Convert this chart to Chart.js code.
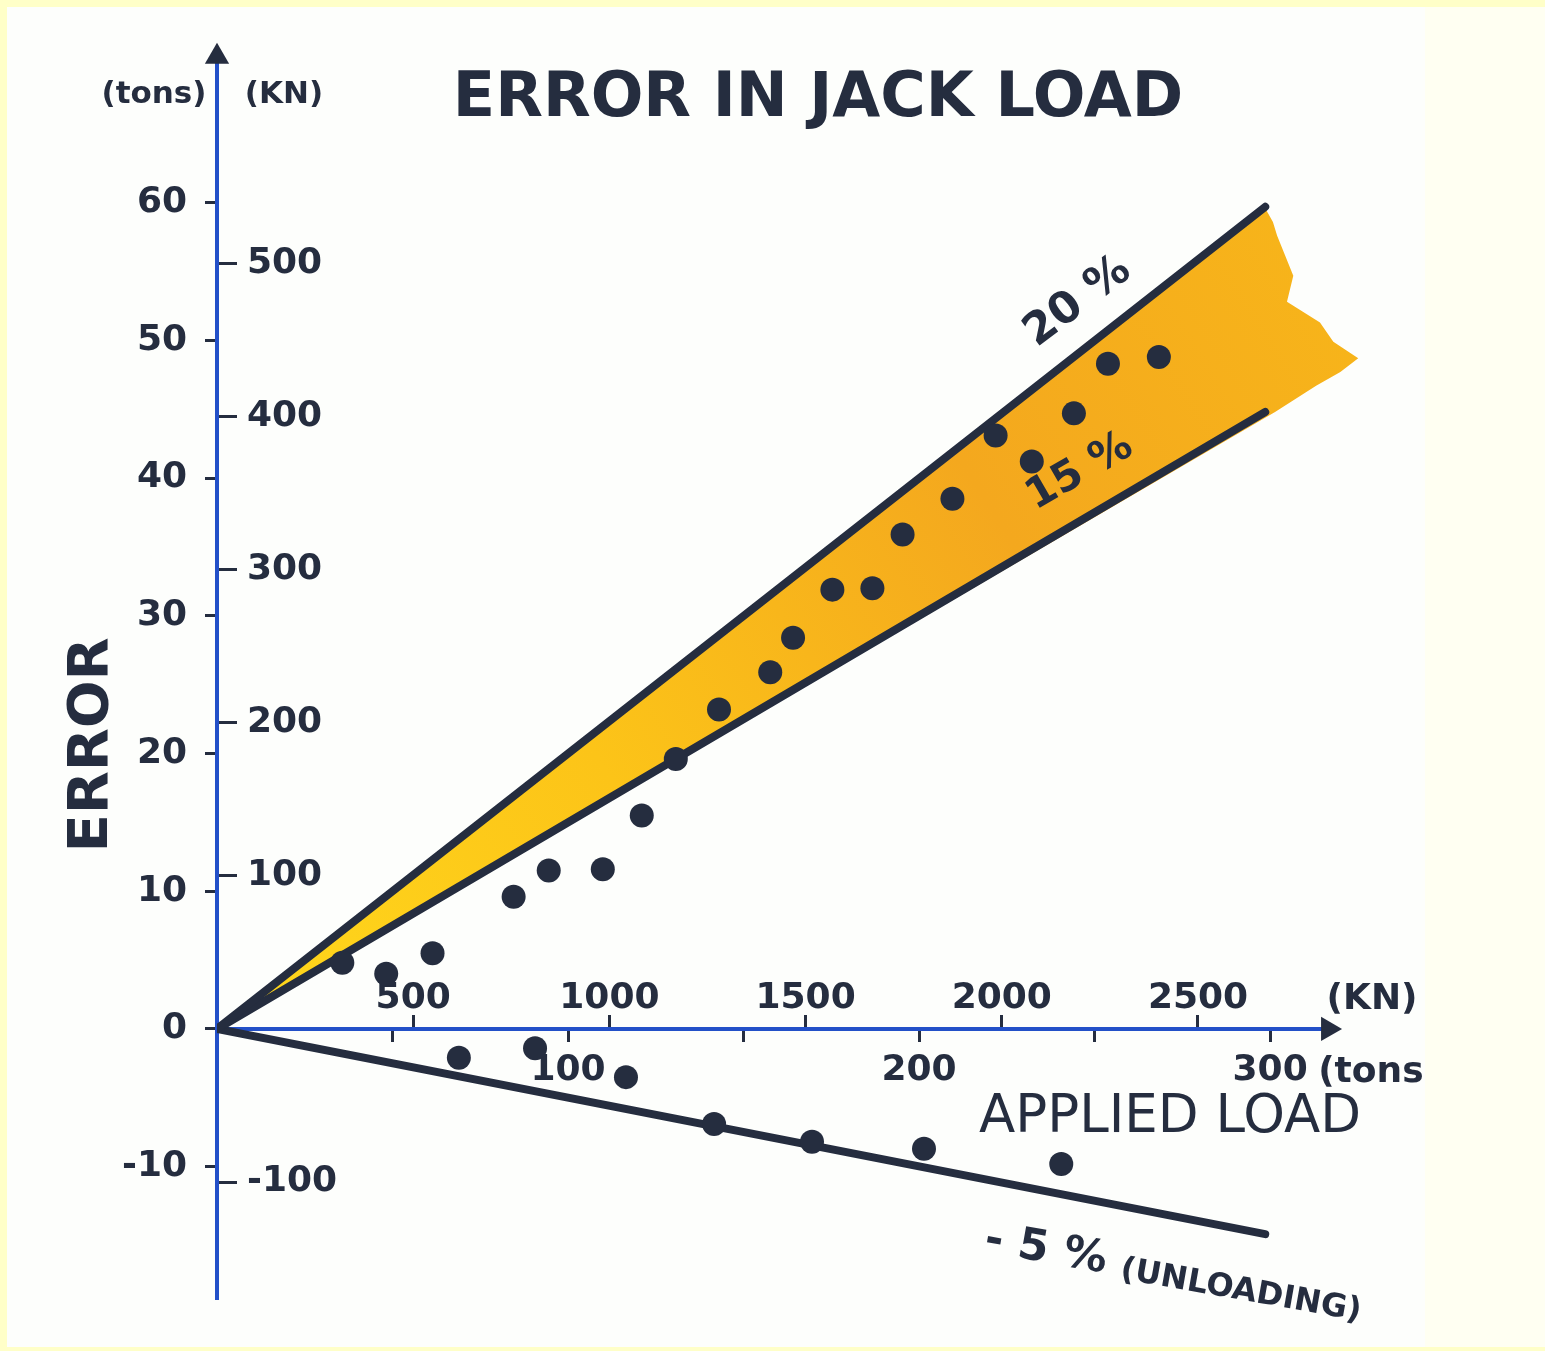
<!DOCTYPE html>
<html>
<head>
<meta charset="utf-8">
<title>Error in jack load</title>
<script src="https://cdn.jsdelivr.net/npm/chart.js@4.4.1/dist/chart.umd.min.js"></script>
<style>
  html, body { margin: 0; padding: 0; background: #ffffc8; }
  #wrap { width: 1545px; height: 1351px; }
</style>
</head>
<body>
<div id="wrap"><canvas id="jackChart" width="1545" height="1351"></canvas></div>
<script>
// applied load (tons) vs error (tons)
const loadingX = [35.7, 48.2, 61.4, 84.5, 94.5, 109.9, 121.0, 130.7, 143.0, 157.6, 164.1, 175.3, 186.7, 195.3, 209.5, 221.8, 232.1, 244.1, 253.8, 268.3];
const loadingY = [4.8, 4.0, 5.5, 9.6, 11.5, 11.6, 15.5, 19.6, 23.2, 25.9, 28.4, 31.9, 32.0, 35.9, 38.5, 43.1, 41.2, 44.7, 48.3, 48.8];
const unloadingX = [68.9, 90.6, 116.5, 141.6, 169.5, 201.4, 240.5];
const unloadingY = [-2.1, -1.4, -3.5, -6.9, -8.2, -8.7, -9.8];

// error envelopes: 20 %, 15 % and -5 % of the applied load
const envelopeX = [0, 298.6];
const upper20Y = [0, 59.7];
const lower15Y = [0, 44.8];
const unload5Y = [0, -14.9];

// hand-coloured band between 15 % and 20 % (ragged right edge)
const bandX = [0, 298.6, 300.8, 302.0, 306.6, 304.8, 314.2, 318.0, 325.1, 320.0, 313.1, 301.4, 0];
const bandY = [0, 59.6, 58.6, 57.6, 54.7, 52.8, 51.3, 49.9, 48.7, 47.7, 46.7, 44.8, 0];

// axis ticks
const errTonTicks = [-10, 0, 10, 20, 30, 40, 50, 60];
const errKnTicks = [-100, 100, 200, 300, 400, 500];
const loadTonTicks = [50, 100, 150, 200, 250, 300];
const loadTonLabels = ['', '100', '', '200', '', '300'];
const loadKnTicks = [500, 1000, 1500, 2000, 2500];

// axis arrows (tip of each axis)
const axisLineX = [0, 316.5];
const axisLineY = [0, 0];
const yArrow = [{ x: 0, y: 70.6 }];
const xArrow = [{ x: 316.5, y: 0 }];

const INK = '#252d3f';
const BLUE = '#2350c8';
const tickFont = { family: 'DejaVu Sans', size: 36, weight: 'bold' };

const pts = (xs, ys) => xs.map((x, i) => ({ x, y: ys[i] }));

// fondo + textos a mano alzada
const inkText = {
    id: 'inkText',
    beforeDraw(chart) {
        const c = chart.ctx;
        c.save();
        c.fillStyle = '#ffffc8';
        c.fillRect(0, 0, 1545, 1351);
        c.fillStyle = '#fffff2';
        c.fillRect(1425, 7, 120, 1340);
        c.fillStyle = '#fdfefc';
        c.fillRect(7, 7, 1418, 1340);
        c.restore();
    },
    afterDraw(chart) {
        const c = chart.ctx;
        const put = (txt, x, y, font, deg, align) => {
            c.save();
            c.translate(x, y);
            if (deg) c.rotate(deg * Math.PI / 180);
            c.font = font;
            c.textAlign = align || 'center';
            c.textBaseline = 'middle';
            c.fillStyle = INK;
            c.fillText(txt, 0, 0);
            c.restore();
        };
        const sx = chart.scales.x;
        put('ERROR IN JACK LOAD', 818, 100, 'bold 62px "DejaVu Sans"');
        put('(tons)', 154, 95, 'bold 31px "DejaVu Sans"');
        put('(KN)', 284, 95, 'bold 31px "DejaVu Sans"');
        put('ERROR', 92, 745, 'bold 56px "DejaVu Sans"', -90);
        put('APPLIED LOAD', 1170, 1118, '53px "DejaVu Sans"');
        put('(tons', sx.getPixelForValue(300) + 48, 1073, 'bold 36px "DejaVu Sans"', 0, 'left');
        put('(KN)', 1372, 1000, 'bold 36px "DejaVu Sans"');
        put('20 %', 1078, 302, 'bold 44px "DejaVu Sans"', -37);
        put('15 %', 1080, 472, 'bold 42px "DejaVu Sans"', -30);
        c.save();
        c.translate(985, 1240);
        c.rotate(10 * Math.PI / 180);
        c.fillStyle = INK;
        c.textBaseline = 'middle';
        c.font = 'bold 44px "DejaVu Sans"';
        c.fillText('- 5 %', 0, 0);
        const w = c.measureText('- 5 % ').width;
        c.font = 'bold 32px "DejaVu Sans"';
        c.fillText('(UNLOADING)', w, 6);
        c.restore();
    }
};

const bandColor = (context) => {
    const chart = context.chart;
    if (!chart.chartArea) return '#f8b81a';
    const x0 = chart.scales.x.getPixelForValue(0);
    const y0 = chart.scales.y.getPixelForValue(0);
    const x1 = chart.scales.x.getPixelForValue(320);
    const y1 = chart.scales.y.getPixelForValue(52);
    const g = chart.ctx.createLinearGradient(x0, y0, x1, y1);
    g.addColorStop(0, '#ffd81c');
    g.addColorStop(0.35, '#fcc418');
    g.addColorStop(0.7, '#f4a81e');
    g.addColorStop(1, '#f7b41a');
    return g;
};

const lineStyle = { type: 'line', borderColor: INK, borderWidth: 8, pointRadius: 0, borderCapStyle: 'round', fill: false, tension: 0, xAxisID: 'x', yAxisID: 'y' };

document.addEventListener('DOMContentLoaded', () => {
    const ctx = document.getElementById('jackChart');
    new Chart(ctx, {
        type: 'scatter',
        data: {
            datasets: [
                { label: 'Loading', data: pts(loadingX, loadingY), pointRadius: 12, pointHoverRadius: 12, backgroundColor: INK, borderWidth: 0, xAxisID: 'x', yAxisID: 'y' },
                { label: 'Unloading', data: pts(unloadingX, unloadingY), pointRadius: 12, pointHoverRadius: 12, backgroundColor: INK, borderWidth: 0, xAxisID: 'x', yAxisID: 'y' },
                { label: 'y arrow', data: yArrow, pointStyle: 'triangle', pointRadius: 14, rotation: 0, backgroundColor: INK, borderWidth: 0, clip: false, xAxisID: 'x', yAxisID: 'y' },
                { label: 'x arrow', data: xArrow, pointStyle: 'triangle', pointRadius: 14, rotation: 90, backgroundColor: INK, borderWidth: 0, clip: false, xAxisID: 'x', yAxisID: 'y' },
                Object.assign({ label: '20 %', data: pts(envelopeX, upper20Y) }, lineStyle),
                Object.assign({ label: '15 %', data: pts(envelopeX, lower15Y) }, lineStyle),
                Object.assign({ label: '-5 %', data: pts(envelopeX, unload5Y) }, lineStyle),
                { type: 'line', label: 'x axis', data: pts(axisLineX, axisLineY), borderColor: BLUE, borderWidth: 4, pointRadius: 0, fill: false, xAxisID: 'x', yAxisID: 'y' },
                { type: 'line', label: 'band', data: pts(bandX, bandY), borderWidth: 0, borderColor: 'rgba(0,0,0,0)', pointRadius: 0, tension: 0, fill: 'shape', backgroundColor: bandColor, xAxisID: 'x', yAxisID: 'y' }
            ]
        },
        options: {
            responsive: false,
            animation: false,
            layout: { padding: { left: 0, top: 45, right: 185, bottom: 51 } },
            plugins: { legend: { display: false }, tooltip: { enabled: false } },
            scales: {
                x: {
                    type: 'linear', axis: 'x', position: { y: 0 }, min: 0, max: 325.6,
                    afterBuildTicks: s => { s.ticks = loadTonTicks.map(v => ({ value: v })); },
                    border: { display: false },
                    grid: { drawOnChartArea: false, drawTicks: true, tickLength: 13, tickWidth: 3, tickColor: INK },
                    ticks: { font: tickFont, color: INK, padding: 7, maxRotation: 0, autoSkip: false,
                        callback: v => loadTonLabels[loadTonTicks.indexOf(v)] || '' }
                },
                xkn: {
                    type: 'linear', axis: 'x', position: { y: 0 }, min: 0, max: 2912.9,
                    afterBuildTicks: s => { s.ticks = loadKnTicks.map(v => ({ value: v })); },
                    border: { display: false },
                    grid: { drawOnChartArea: false, drawTicks: true, tickLength: -14, tickWidth: 3, tickColor: INK },
                    ticks: { font: tickFont, color: INK, padding: -38, maxRotation: 0, autoSkip: false,
                        callback: v => String(v) }
                },
                y: {
                    type: 'linear', axis: 'y', position: 'left', weight: 1, min: -19.64, max: 70.97,
                    afterFit: s => { s.width = 217; },
                    afterBuildTicks: s => { s.ticks = errTonTicks.map(v => ({ value: v })); },
                    border: { display: true, color: BLUE, width: 4 },
                    grid: { drawOnChartArea: false, drawTicks: true, tickLength: 12, tickWidth: 3, tickColor: INK },
                    ticks: { font: tickFont, color: INK, padding: 18, autoSkip: false, callback: v => String(v) }
                },
                ykn: {
                    type: 'linear', axis: 'y', position: 'left', weight: 0, min: -176.6, max: 638.3,
                    afterFit: s => { s.width = 0; },
                    afterBuildTicks: s => { s.ticks = errKnTicks.map(v => ({ value: v })); },
                    border: { display: false },
                    grid: { drawOnChartArea: false, drawTicks: true, tickLength: -20, tickWidth: 3, tickColor: INK },
                    ticks: { font: tickFont, color: INK, mirror: true, padding: 30, autoSkip: false, callback: v => String(v) }
                }
            }
        },
        plugins: [inkText]
    });
});
</script>
</body>
</html>
